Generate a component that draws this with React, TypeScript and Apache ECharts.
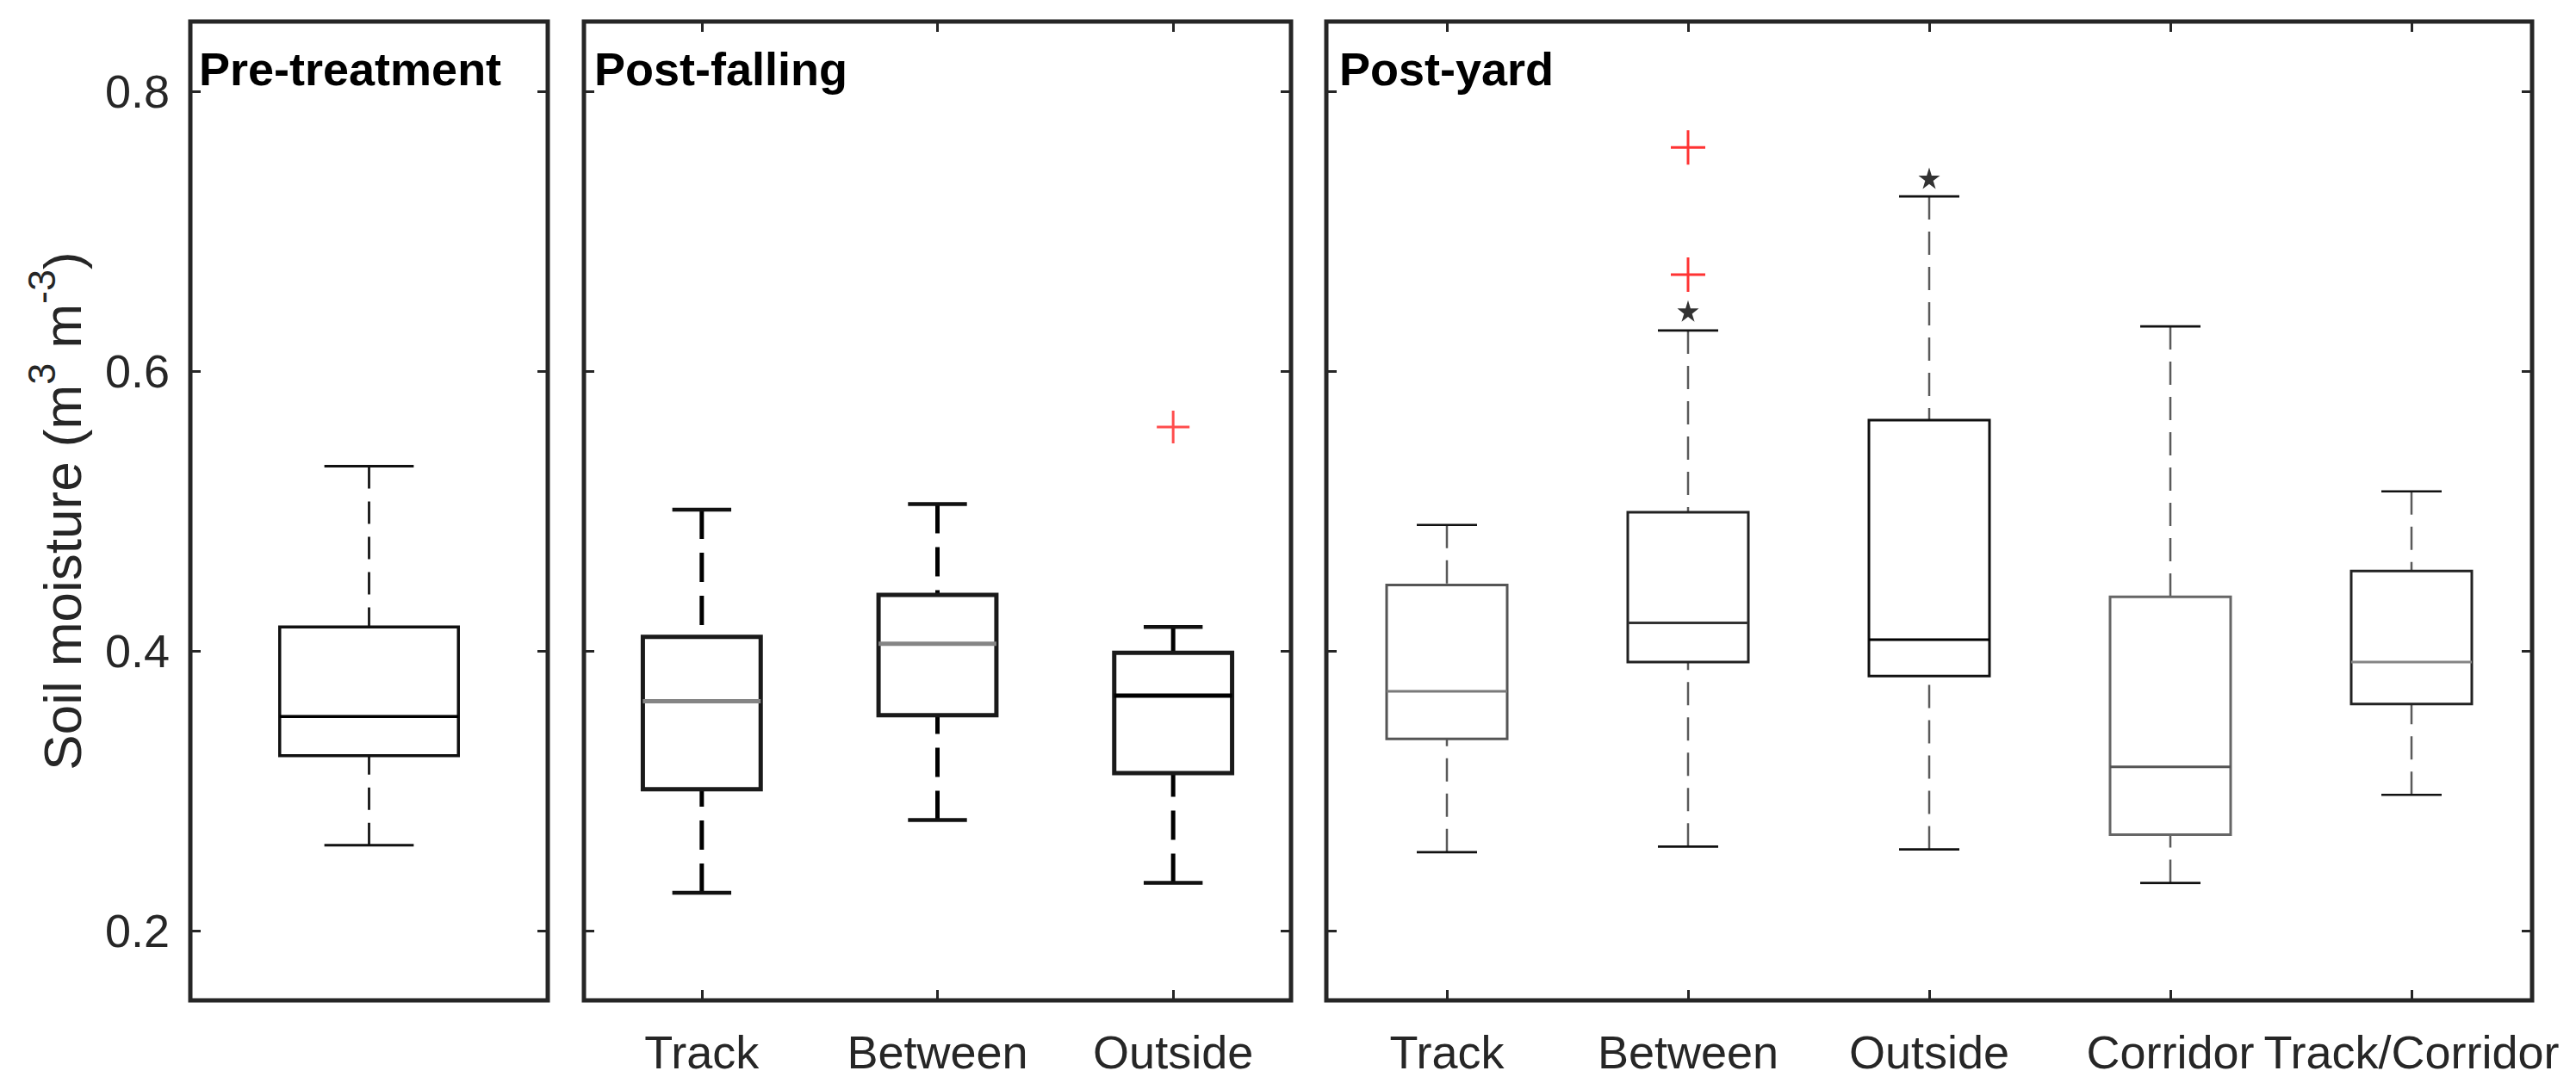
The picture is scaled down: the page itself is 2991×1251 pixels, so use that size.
import React, { useEffect, useRef } from 'react';
import * as echarts from 'echarts';

// ---------------- data ----------------
const preCategories = ['Pre-treatment'];
const fallingCategories = ['Track', 'Between', 'Outside'];
const yardCategories = ['Track', 'Between', 'Outside', 'Corridor', 'Track/Corridor'];

// each box: [lower whisker, Q1, median, Q3, upper whisker]
const preBoxes = [[0.261, 0.325, 0.353, 0.417, 0.532]];
const fallingBoxes = [
  [0.227, 0.301, 0.364, 0.41, 0.501],
  [0.279, 0.354, 0.405, 0.44, 0.505],
  [0.234, 0.3125, 0.368, 0.3985, 0.417],
];
const yardBoxes = [
  [0.256, 0.337, 0.371, 0.447, 0.49],
  [0.26, 0.392, 0.42, 0.499, 0.629],
  [0.258, 0.382, 0.408, 0.565, 0.725],
  [0.234, 0.2685, 0.317, 0.4386, 0.632],
  [0.297, 0.362, 0.392, 0.457, 0.514],
];
const fallingOutliers = [['Outside', 0.56]];
const yardOutliers = [['Between', 0.76], ['Between', 0.669]];
const yardStars = [['Between', 0.643], ['Outside', 0.738]];
const panelTitles = ['Pre-treatment', 'Post-falling', 'Post-yard'];
const yTicks = [0.2, 0.4, 0.6, 0.8];
const yMin = 0.15;
const yMax = 0.85;

// ---------------- layout / style ----------------
const FONT = '"Liberation Sans", Arial, Helvetica, sans-serif';
const AXIS_COLOR = '#262626';
const grids = [
  { left: 221, top: 25, width: 415, height: 1137 },
  { left: 678, top: 25, width: 821, height: 1137 },
  { left: 1540, top: 25, width: 1400, height: 1137 },
];
const titleX = [231, 690, 1555];
const titleY = 80;

const panelStyles = [
  {
    lineWidth: 3.5, whiskerWidth: 3, dash: [26, 15], whiskerColor: '#222',
    medianColors: ['#000'], boxColors: ['#111'],
  },
  {
    lineWidth: 5, whiskerWidth: 5, dash: [34, 16], whiskerColor: '#000',
    medianColors: ['#858585', '#858585', '#000'], boxColors: ['#1a1a1a', '#1a1a1a', '#1a1a1a'],
  },
  {
    lineWidth: 3, whiskerWidth: 2.5, dash: [27, 14], whiskerColor: '#5a5a5a',
    medianColors: ['#7a7a7a', '#333', '#000', '#555', '#858585'],
    boxColors: ['#555', '#222', '#111', '#666', '#222'],
  },
];

const PLUS = 'path://M0,50 L100,50 M50,0 L50,100';
const STAR = 'path://M50,0 L61,35 L98,35 L68,57 L79,91 L50,70 L21,91 L32,57 L2,35 L39,35 Z';

function makeRenderItem(ps: any) {
  return (params: any, api: any) => {
    const i = params.dataIndex;
    const idx = api.value(0);
    const lo = api.coord([idx, api.value(1)]);
    const q1 = api.coord([idx, api.value(2)]);
    const med = api.coord([idx, api.value(3)]);
    const q3 = api.coord([idx, api.value(4)]);
    const hi = api.coord([idx, api.value(5)]);
    const band = api.size([1, 0])[0];
    const cx = lo[0];
    const hb = band * 0.25;
    const hc = band * 0.125;
    const boxColor = ps.boxColors[i] || '#000';
    const medColor = ps.medianColors[i] || '#000';
    return {
      type: 'group',
      children: [
        {
          type: 'line',
          shape: { x1: cx, y1: hi[1], x2: cx, y2: q3[1] },
          style: { stroke: ps.whiskerColor, lineWidth: ps.whiskerWidth, lineDash: ps.dash },
        },
        {
          type: 'line',
          shape: { x1: cx, y1: lo[1], x2: cx, y2: q1[1] },
          style: { stroke: ps.whiskerColor, lineWidth: ps.whiskerWidth, lineDash: ps.dash },
        },
        {
          type: 'line',
          shape: { x1: cx - hc, y1: hi[1], x2: cx + hc, y2: hi[1] },
          style: { stroke: '#111', lineWidth: ps.lineWidth * 0.9 },
        },
        {
          type: 'line',
          shape: { x1: cx - hc, y1: lo[1], x2: cx + hc, y2: lo[1] },
          style: { stroke: '#111', lineWidth: ps.lineWidth * 0.9 },
        },
        {
          type: 'rect',
          shape: { x: cx - hb, y: q3[1], width: hb * 2, height: q1[1] - q3[1] },
          style: { fill: 'rgba(0,0,0,0)', stroke: boxColor, lineWidth: ps.lineWidth },
        },
        {
          type: 'line',
          shape: { x1: cx - hb, y1: med[1], x2: cx + hb, y2: med[1] },
          style: { stroke: medColor, lineWidth: ps.lineWidth },
        },
      ],
    };
  };
}

export default function App() {
  const ref = useRef<HTMLDivElement>(null);

  useEffect(() => {
    if (!ref.current) return;
    const chart = echarts.init(ref.current, null, { renderer: 'svg' });
    const categories = [preCategories, fallingCategories, yardCategories];
    const boxes = [preBoxes, fallingBoxes, yardBoxes];

    const xAxis: any[] = [];
    const yAxis: any[] = [];
    categories.forEach((cats, gi) => {
      ['bottom', 'top'].forEach((pos) => {
        xAxis.push({
          gridIndex: gi,
          type: 'category',
          data: cats,
          position: pos,
          axisLine: { show: false },
          axisTick: {
            show: gi > 0,
            inside: true,
            alignWithLabel: true,
            interval: 0,
            length: 12,
            lineStyle: { color: AXIS_COLOR, width: 3 },
          },
          axisLabel: {
            show: gi > 0 && pos === 'bottom',
            interval: 0,
            margin: 33,
            fontSize: 54,
            fontFamily: FONT,
            color: AXIS_COLOR,
          },
          splitLine: { show: false },
        });
      });
      ['left', 'right'].forEach((pos) => {
        const isMain = gi === 0 && pos === 'left';
        yAxis.push({
          gridIndex: gi,
          type: 'value',
          position: pos,
          min: yMin,
          max: yMax,
          axisLine: { show: false },
          axisTick: {
            show: true,
            inside: true,
            length: 12,
            customValues: yTicks,
            lineStyle: { color: AXIS_COLOR, width: 3 },
          },
          axisLabel: {
            show: isMain,
            customValues: yTicks,
            formatter: (v: number) => v.toFixed(1),
            margin: 24,
            fontSize: 54,
            fontFamily: FONT,
            color: AXIS_COLOR,
          },
          splitLine: { show: false },
          name: isMain ? '{a|Soil moisture (m}{s|3}{a| m}{s|-3}{a|)}' : '',
          nameLocation: 'middle',
          nameGap: 118,
          nameRotate: 90,
          nameTextStyle: {
            fontSize: 62,
            fontFamily: FONT,
            color: AXIS_COLOR,
            rich: {
              a: { fontSize: 62, fontFamily: FONT, color: AXIS_COLOR, verticalAlign: 'bottom' },
              s: {
                fontSize: 45,
                fontFamily: FONT,
                color: AXIS_COLOR,
                verticalAlign: 'bottom',
                padding: [0, 0, 32, 0],
              },
            },
          },
        });
      });
    });

    const series: any[] = [];
    boxes.forEach((bx, gi) => {
      series.push({
        type: 'custom',
        xAxisIndex: gi * 2,
        yAxisIndex: gi * 2,
        renderItem: makeRenderItem(panelStyles[gi]),
        encode: { x: 0, y: [1, 2, 3, 4, 5] },
        data: bx.map((b, i) => [i, ...b]),
        silent: true,
      });
    });
    series.push({
      type: 'scatter',
      xAxisIndex: 2,
      yAxisIndex: 2,
      data: fallingOutliers,
      symbol: PLUS,
      symbolSize: 38,
      itemStyle: { color: 'rgba(0,0,0,0)', borderColor: '#ff2020', borderWidth: 3 },
      silent: true,
      z: 5,
    });
    series.push({
      type: 'scatter',
      xAxisIndex: 4,
      yAxisIndex: 4,
      data: yardOutliers,
      symbol: PLUS,
      symbolSize: 40,
      itemStyle: { color: 'rgba(0,0,0,0)', borderColor: '#ff0000', borderWidth: 3 },
      silent: true,
      z: 5,
    });
    series.push({
      type: 'scatter',
      xAxisIndex: 4,
      yAxisIndex: 4,
      data: yardStars,
      symbol: STAR,
      symbolSize: 25,
      itemStyle: { color: '#000' },
      silent: true,
      z: 5,
    });

    chart.setOption({
      animation: false,
      backgroundColor: '#ffffff',
      textStyle: { fontFamily: FONT },
      grid: grids.map((g) => ({
        ...g,
        show: true,
        backgroundColor: '#fff',
        borderColor: AXIS_COLOR,
        borderWidth: 5,
        containLabel: false,
        outerBoundsMode: 'none',
      })),
      xAxis,
      yAxis,
      series,
      graphic: panelTitles.map((t, i) => ({
        type: 'text',
        x: titleX[i],
        y: titleY,
        z: 10,
        style: {
          text: t,
          fontSize: 54,
          fontWeight: 'bold',
          fontFamily: FONT,
          fill: '#000',
          verticalAlign: 'middle',
          align: 'left',
        },
      })),
    });
    return () => chart.dispose();
  }, []);

  return (
    <div
      ref={ref}
      style={{ position: 'absolute', left: 0, top: 0, width: 2991, height: 1251, background: '#fff' }}
    />
  );
}
